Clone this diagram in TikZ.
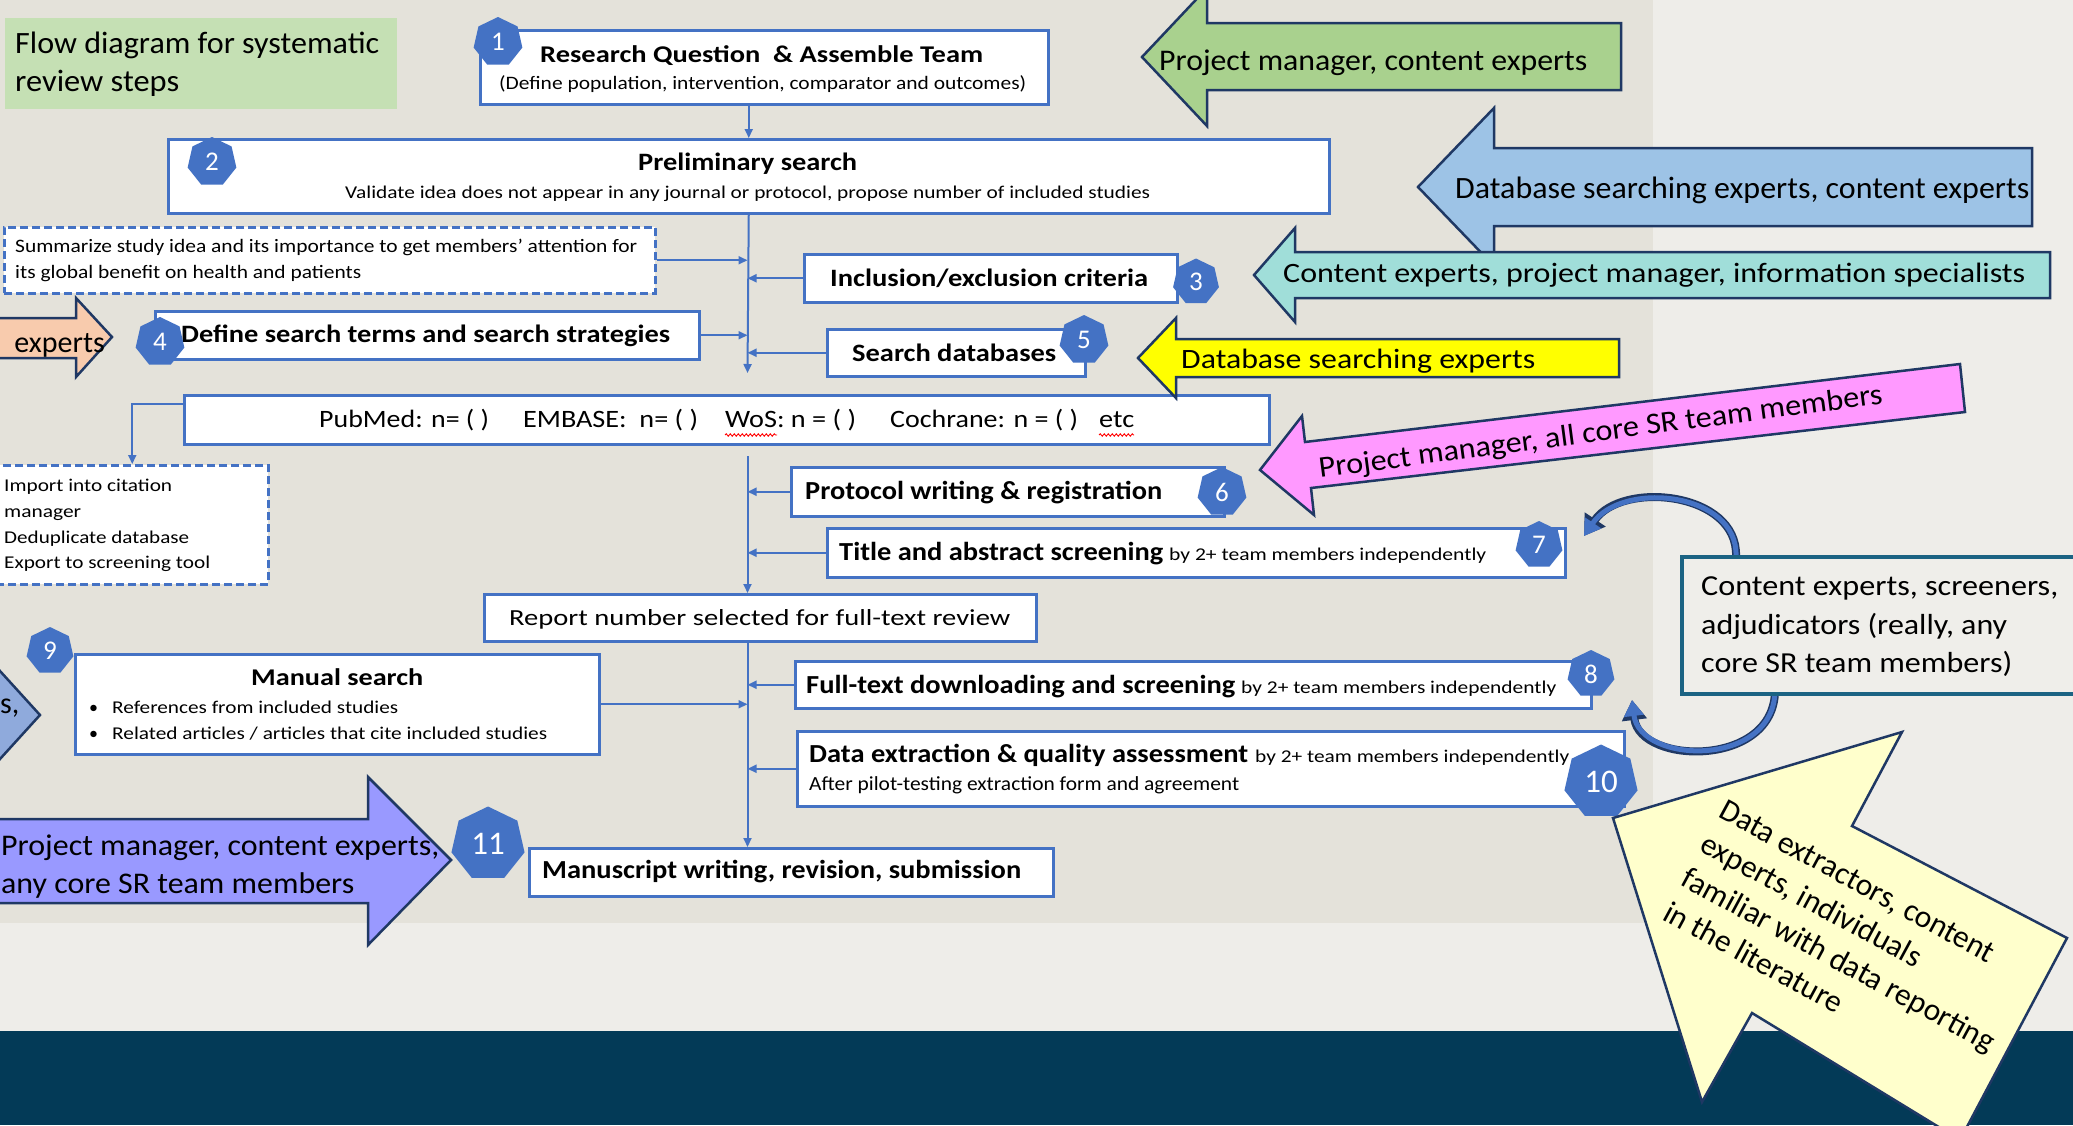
\documentclass[tikz,border=0pt]{standalone}
\usepackage{fontspec}
\setmainfont{Carlito}
\usepackage{graphicx}
\usetikzlibrary{arrows.meta,shapes.geometric,decorations.pathmorphing,calc}
\newcommand{\fw}[2]{\resizebox{#1pt}{\height}{#2}}
\newcommand{\fsz}[1]{\fontsize{#1}{#1}\selectfont}
\definecolor{bblue}{HTML}{4472C4}
\definecolor{anavy}{HTML}{1F3864}
\definecolor{panel}{HTML}{E4E2DA}
\definecolor{lightbg}{HTML}{EEEDE9}
\definecolor{band}{HTML}{033A57}
\definecolor{titlegreen}{HTML}{C5E0B4}
\definecolor{agreen}{HTML}{A9D18E}
\definecolor{ablue}{HTML}{9DC3E6}
\definecolor{ateal}{HTML}{A0DED9}
\definecolor{ayellow}{HTML}{FFFF00}
\definecolor{apink}{HTML}{FF99FF}
\definecolor{apurple}{HTML}{9999FF}
\definecolor{aorange}{HTML}{F8CBAD}
\definecolor{aleft}{HTML}{8FAADC}
\definecolor{anote}{HTML}{FFFFCC}
\definecolor{rteal}{HTML}{1B6383}
\definecolor{rfill}{HTML}{EFEEEA}
\begin{document}
\begin{tikzpicture}[x=1pt,y=-1pt,
  bx/.style={draw=bblue, line width=2.5pt, fill=white, inner sep=0pt, anchor=north west},
  dbx/.style={bx, dash pattern=on 8pt off 4pt},
  tx/.style={inner sep=0pt, anchor=base west},
  badge/.style={regular polygon, regular polygon sides=7, fill=bblue, draw=none, text=white, inner sep=0pt, minimum size=50pt, font=\fsz{27}},
  bigbadge/.style={badge, minimum size=75pt, font=\fsz{33}},
  conn/.style={draw=bblue, line width=2pt, -{Triangle[length=9pt,width=8pt]}},
  blk/.style={draw=anavy, line width=2.5pt, line join=miter},
  hb/.style={font=\fsz{26}\bfseries},
  sm/.style={font=\fsz{18}},
  wavy/.style={draw=red, line width=0.9pt, decorate, decoration={snake, amplitude=1.2pt, segment length=4pt}}
]
\useasboundingbox (0,0) rectangle (2073,1125);
\begin{scope}
\clip (0,0) rectangle (2073,1125);
% backgrounds
\fill[lightbg] (0,0) rectangle (2073,1125);
\fill[panel] (0,0) rectangle (1653,923);
\fill[band] (0,1031) rectangle (2073,1125);

% title
\node[fill=titlegreen, inner sep=0pt, minimum width=392pt, minimum height=91pt, anchor=north west] (title) at (5,18) {};
\node[tx, font=\fsz{31}] (tt1) at (15,53) {\fw{364}{Flow diagram for systematic}};
\node[tx, font=\fsz{31}] (tt2) at (15,91) {\fw{164}{review steps}};

% boxes
\node[bx, minimum width=568pt, minimum height=74pt] (b1) at (479,29) {};
\node[bx, minimum width=1161pt, minimum height=74pt] (b2) at (167,138) {};
\node[dbx, minimum width=651pt, minimum height=66pt] (sum) at (3,226) {};
\node[bx, minimum width=373pt, minimum height=48pt] (inc) at (803,253) {};
\node[bx, minimum width=544pt, minimum height=48pt] (def) at (154,310) {};
\node[bx, minimum width=258pt, minimum height=47pt] (sdb) at (826,328) {};
\node[bx, minimum width=1085pt, minimum height=49pt] (pub) at (183,394) {};
\node[dbx, minimum width=272pt, minimum height=119pt] (imp) at (-5,464) {};
\node[bx, minimum width=433pt, minimum height=49pt] (pro) at (790,466) {};
\node[bx, minimum width=738pt, minimum height=49pt] (tab) at (826,527) {};
\node[bx, minimum width=552pt, minimum height=47pt] (rep) at (483,593) {};
\node[bx, minimum width=524pt, minimum height=100pt] (man) at (74,653) {};
\node[bx, minimum width=796pt, minimum height=47pt] (fts) at (794,660) {};
\node[bx, minimum width=827pt, minimum height=75pt] (dex) at (796,730) {};
\node[bx, minimum width=524pt, minimum height=48pt] (msw) at (528,847) {};

% trunk coordinates
\coordinate (t1) at (747.5,373);
\coordinate (t2s) at (747.5,456);

% connectors
\draw[conn] (b1.south -| b2.north) -- (b2.north);
\draw[conn] (b2.south) -- (t1);
\draw[conn] (sum.east) -- (sum.east -| t1);
\draw[conn] (inc.west) -- (inc.west -| t1);
\draw[conn] (def.east) -- (def.east -| t1);
\draw[conn] (sdb.west) -- (sdb.west -| t1);
\draw[conn] ([yshift=-10pt]pub.north west) -| (imp.north);
\draw[conn] (t2s) -- (rep.north -| t2s);
\draw[conn] (pro.west) -- (pro.west -| t2s);
\draw[conn] (tab.west) -- (tab.west -| t2s);
\draw[conn] (rep.south -| t2s) -- (msw.north -| t2s);
\draw[conn] (man.east) -- (man.east -| t2s);
\draw[conn] (fts.west) -- (fts.west -| t2s);
\draw[conn] (dex.west) -- (dex.west -| t2s);

% box texts
\node[tx, font=\fsz{24}\bfseries] (b1t) at (540,62) {\fw{443}{Research Question\ \ \& Assemble Team}};
\node[tx, font=\fsz{19}] (b1s) at (499,89) {\fw{527}{(Define population, intervention, comparator and outcomes)}};
\node[tx, font=\fsz{25}\bfseries] (b2t) at (638,170) {\fw{219}{Preliminary search}};
\node[tx, font=\fsz{18}] (b2s) at (345,198) {\fw{805}{Validate idea does not appear in any journal or protocol, propose number of included studies}};
\node[tx, font=\fsz{19}] (sum1) at (15,252) {\fw{622}{Summarize study idea and its importance to get members’ attention for}};
\node[tx, font=\fsz{19}] (sum2) at (15,278) {\fw{346}{its global benefit on health and patients}};
\node[tx, font=\fsz{25}\bfseries] (inct) at (830,286) {\fw{318}{Inclusion/exclusion criteria}};
\node[tx, font=\fsz{25}\bfseries] (deft) at (181,342) {\fw{489}{Define search terms and search strategies}};
\node[tx, font=\fsz{25}\bfseries] (sdbt) at (852,361) {\fw{204}{Search databases}};
\node[tx, font=\fsz{25}] (p1) at (319,427) {\fw{170}{PubMed: n= ( )}};
\node[tx, font=\fsz{25}] (p2) at (523,427) {\fw{175}{EMBASE:\ \ n= ( )}};
\node[tx, font=\fsz{25}] (p3) at (725,427) {\fw{131}{WoS: n = ( )}};
\node[tx, font=\fsz{25}] (p4) at (890,427) {\fw{188}{Cochrane: n = ( )}};
\node[tx, font=\fsz{25}] (p5) at (1099,427) {\fw{35}{etc}};
\draw[wavy] (725,435) -- (777,435);
\draw[wavy] (1099,435) -- (1134,435);
\node[tx, font=\fsz{18}] (imp1) at (4,491) {\fw{168}{Import into citation}};
\node[tx, font=\fsz{18}] (imp2) at (4,517) {\fw{77}{manager}};
\node[tx, font=\fsz{18}] (imp3) at (4,543) {\fw{185}{Deduplicate database}};
\node[tx, font=\fsz{18}] (imp4) at (4,568) {\fw{206}{Export to screening tool}};
\node[tx, hb] (prot) at (805,499) {\fw{357}{Protocol writing \& registration}};
\node[tx, hb] (tabt) at (839,560) {\fw{324}{Title and abstract screening}};
\node[tx, sm] (tabs) at (1169,560) {\fw{317}{by 2+ team members independently}};
\node[tx, font=\fsz{23}] (rept) at (509,625) {\fw{501}{Report number selected for full-text review}};
\node[tx, font=\fsz{24}\bfseries] (mant) at (251,685) {\fw{172}{Manual search}};
\node[tx, sm] (manb1) at (89,713) {•};
\node[tx, sm] (manb2) at (89,739) {•};
\node[tx, sm] (man1) at (112,713) {\fw{286}{References from included studies}};
\node[tx, sm] (man2) at (112,739) {\fw{435}{Related articles / articles that cite included studies}};
\node[tx, hb] (ftst) at (806,693) {\fw{429}{Full-text downloading and screening}};
\node[tx, sm] (ftss) at (1241,693) {\fw{315}{by 2+ team members independently}};
\node[tx, hb] (dext) at (809,762) {\fw{439}{Data extraction \& quality assessment}};
\node[tx, sm] (dexs) at (1255,762) {\fw{314}{by 2+ team members independently}};
\node[tx, font=\fsz{20}] (dex2) at (809,790) {\fw{430}{After pilot-testing extraction form and agreement}};
\node[tx, hb] (mswt) at (542,878) {\fw{479}{Manuscript writing, revision, submission}};

% badges
\node[badge] (n1) at (498,42) {1};
\node[badge] (n2) at (212,162) {2};
\node[badge, minimum size=47pt] (n3) at (1196,282) {3};
\node[badge] (n4) at (160,342) {4};
\node[badge] (n5) at (1084,340) {5};
\node[badge] (n6) at (1222,492) {6};
\node[badge, minimum size=48pt] (n7) at (1539,545) {7};
\node[badge, minimum size=48pt] (n8) at (1591,674) {8};
\node[badge, minimum size=48pt] (n9) at (50,651) {9};
\node[bigbadge] (n10) at (1601,782) {10};
\node[bigbadge] (n11) at (488,844) {11};

% block arrows
\draw[blk, fill=aorange] (-10,318) -- (76,318) -- (76,298) -- (112,337) -- (76,377) -- (76,358) -- (-10,358) -- cycle;
\node[inner sep=0pt, anchor=base east, font=\fsz{30}] (expt) at (105,352) {experts};
\draw[blk, fill=agreen] (1207,23) -- (1621,23) -- (1621,90) -- (1207,90) -- (1207,126) -- (1142,57) -- (1207,-12) -- cycle;
\node[tx, font=\fsz{30}] (gt) at (1159,70) {\fw{428}{Project manager, content experts}};
\draw[blk, fill=ablue] (1494,148) -- (2032,148) -- (2032,226) -- (1494,226) -- (1494,266) -- (1418,187) -- (1494,108) -- cycle;
\node[tx, font=\fsz{31}] (bt) at (1455,198) {\fw{574}{Database searching experts, content experts}};
\draw[blk, fill=ateal] (1295,252) -- (2050,252) -- (2050,298) -- (1295,298) -- (1295,322) -- (1254,275) -- (1295,228) -- cycle;
\node[tx, font=\fsz{28}] (tlt) at (1283,282) {\fw{742}{Content experts, project manager, information specialists}};
\draw[blk, fill=ayellow] (1176,339) -- (1619,339) -- (1619,377) -- (1176,377) -- (1176,398) -- (1138,358) -- (1176,318) -- cycle;
\node[tx, font=\fsz{28}] (yt) at (1181,368) {\fw{354}{Database searching experts}};
\draw[blk, fill=apink] (1305,442) -- (1960,364) -- (1965,412) -- (1311,488) -- (1314,515) -- (1260,470) -- (1302,416) -- cycle;
\node[tx, font=\fsz{30}, rotate=7.5] (pt) at (1320,478) {\fw{568}{Project manager, all core SR team members}};
\draw[blk, fill=apurple] (-10,819) -- (368,819) -- (368,777) -- (451,860) -- (368,945) -- (368,903) -- (-10,903) -- cycle;
\node[tx, font=\fsz{30}] (pu1) at (1,855) {\fw{438}{Project manager, content experts,}};
\node[tx, font=\fsz{30}] (pu2) at (1,893) {\fw{353}{any core SR team members}};
\draw[blk, fill=aleft] (-10,660) -- (40,715) -- (-10,770) -- cycle;
\node[tx, font=\fsz{30}] (lt) at (0,713) {s,};

% curved arrows
\coordinate (c7) at (1584,536);
\coordinate (c8) at (1632,700);
\draw[line width=8pt, draw=anavy, -{Triangle[length=20pt,width=24pt]}] (1736,556) .. controls (1738,492) and (1622,480) .. (c7);
\draw[line width=5pt, draw=bblue, -{Triangle[length=16pt,width=19pt]}] (1736,556) .. controls (1738,492) and (1622,480) .. (c7);
\draw[line width=8pt, draw=anavy, -{Triangle[length=20pt,width=24pt]}] (1775,690) .. controls (1775,768) and (1640,765) .. (c8);
\draw[line width=5pt, draw=bblue, -{Triangle[length=16pt,width=19pt]}] (1775,690) .. controls (1775,768) and (1640,765) .. (c8);

% right box
\node[draw=rteal, line width=3.5pt, fill=rfill, inner sep=0pt, minimum width=420pt, minimum height=137pt, anchor=north west] (rbox) at (1680,555) {};
\node[tx, font=\fsz{29}] (r1) at (1701,595) {\fw{357}{Content experts, screeners,}};
\node[tx, font=\fsz{29}] (r2) at (1701,634) {\fw{306}{adjudicators (really, any}};
\node[tx, font=\fsz{29}] (r3) at (1701,672) {\fw{311}{core SR team members)}};

% note arrow
\draw[blk, fill=anote] (1613,818) -- (1902,732) -- (1852,826) -- (2067,938) -- (1960,1140) -- (1752,1013) -- (1702,1102) -- cycle;
\node[inner sep=0pt, anchor=base west, align=left, rotate=-28.5, font=\fontsize{31.5}{39}\selectfont] (note) at (1661,919) {Data extractors, content\\experts, individuals\\familiar with data reporting\\in the literature};
\end{scope}
\end{tikzpicture}
\end{document}
